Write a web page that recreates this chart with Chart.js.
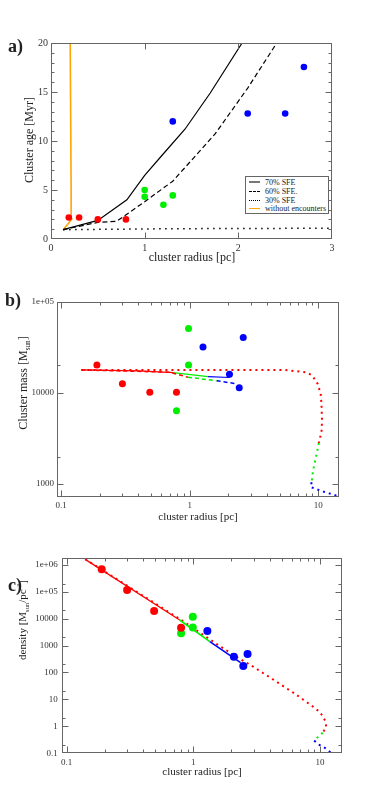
<!DOCTYPE html>
<html>
<head>
<meta charset="utf-8">
<script src="https://cdn.jsdelivr.net/npm/chart.js@4/dist/chart.umd.min.js"></script>
<style>
  body { margin: 0; background: #fff; width: 374px; height: 796px; position: relative; overflow: hidden;
         font-family: "Liberation Serif", "Times New Roman", serif; color: #222; }
  canvas { position: absolute; left: 0; }
  .t { position: absolute; white-space: nowrap; line-height: 1; transform: translate(-50%, -50%); }
  .rot { transform: translate(-50%, -50%) rotate(-90deg); }
  .lab { position: absolute; font-weight: bold; font-size: 18px; line-height: 1; }
  sub, sup { font-size: 0.6em; line-height: 0; }
  #legA { position: absolute; left: 245px; top: 176px; width: 82px; height: 36px; border: 1px solid #666;
          font-size: 8px; background: #fff; }
  #legA .row { position: absolute; left: 0; height: 9px; width: 82px; }
  #legA .smp { position: absolute; left: 3px; top: 4px; width: 11px; }
  #legA .txt { position: absolute; left: 19px; top: 0; line-height: 9px; white-space: nowrap; }
</style>
</head>
<body>
<canvas id="chartA" width="374" height="268" style="top:0"></canvas>
<canvas id="chartB" width="374" height="262" style="top:270px"></canvas>
<canvas id="chartC" width="374" height="264" style="top:532px"></canvas>

<div class="lab" style="left:8px;top:37px">a)</div>
<div class="lab" style="left:5px;top:291px">b)</div>
<div class="lab" style="left:8px;top:576px">c)</div>

<div class="t" style="left:192px;top:257px;font-size:12px">cluster radius [pc]</div>
<div class="t rot" style="left:29px;top:140px;font-size:12px">Cluster age [Myr]</div>
<div class="t" style="left:198px;top:516px;font-size:11px">cluster radius [pc]</div>
<div class="t rot" style="left:23px;top:383px;font-size:12px">Cluster mass [M<sub>sun</sub>]</div>
<div class="t" style="left:202px;top:771px;font-size:11px">cluster radius [pc]</div>
<div class="t rot" style="left:22px;top:620px;font-size:11px">density [M<sub>sun</sub>/pc<sup>-3</sup>]</div>

<div id="legA">
  <div class="row" style="top:1px"><span class="smp" style="border-top:2px solid #777;top:3px"></span><span class="txt">70% SFE</span></div>
  <div class="row" style="top:10px"><span class="smp" style="border-top:1px dashed #000"></span><span class="txt">60% SFE.</span></div>
  <div class="row" style="top:19px"><span class="smp" style="border-top:1px dotted #000"></span><span class="txt">30% SFE</span></div>
  <div class="row" style="top:27px"><span class="smp" style="border-top:1.5px solid #ffa500"></span><span class="txt">without encounters</span></div>
</div>

<script>
// ---- panel a: cluster age vs radius ----
const ageRedR = [0.19, 0.30, 0.50, 0.80];
const ageRedT = [2.2, 2.2, 2.0, 2.0];
const ageGreenR = [1.0, 1.0, 1.2, 1.3];
const ageGreenT = [5.0, 4.3, 3.5, 4.45];
const ageBlueR = [1.3, 2.1, 2.5, 2.7];
const ageBlueT = [12.0, 12.8, 12.8, 17.55];
const sfe70R = [0.13, 0.5, 0.81, 1.0, 1.2, 1.43, 1.7, 2.04];
const sfe70T = [0.95, 1.9, 4.0, 6.5, 8.7, 11.2, 14.9, 20];
const sfe60R = [0.13, 0.5, 0.7, 1.0, 1.3, 1.75, 2.1, 2.41];
const sfe60T = [0.95, 1.7, 1.8, 3.8, 5.9, 10.7, 15.4, 20];
const sfe30R = [0.13, 1.3, 3.0];
const sfe30T = [0.95, 1.05, 1.1];
const noEncR = [0.13, 0.22, 0.215, 0.205];
const noEncT = [0.95, 2.0, 5.0, 20];
const ageTicksX = [0, 1, 2, 3];
const ageTicksY = [0, 5, 10, 15, 20];
const ageMinorY = [1, 2, 3, 4, 6, 7, 8, 9, 11, 12, 13, 14, 16, 17, 18, 19];

// ---- panel b: cluster mass vs radius ----
const massRedR = [0.19, 0.30, 0.49, 0.79];
const massRedM = [20150, 12560, 10100, 10100];
const massGreenR = [0.98, 0.98, 0.79];
const massGreenM = [50500, 20150, 6340];
const massBlueR = [1.27, 2.61, 2.04, 2.43];
const massBlueM = [31800, 40200, 15930, 11350];
const mRedSolidR = [0.144, 0.4, 0.745];
const mRedSolidM = [17800, 17400, 16600];
const mRedDashR = [0.144, 0.7, 0.97];
const mRedDashM = [17800, 16800, 14800];
const mGreenSolidR = [0.745, 1.39];
const mGreenSolidM = [16600, 15000];
const mGreenDashR = [0.97, 1.62];
const mGreenDashM = [14800, 13550];
const mBlueSolidR = [1.39, 2.05];
const mBlueSolidM = [15000, 14700];
const mBlueDashR = [1.62, 2.35];
const mBlueDashM = [13550, 12500];
const mRedDotR = [0.144, 5.48, 8.02, 8.77, 9.38, 9.9, 10.45, 10.6, 10.7, 10.6, 10.1];
const mRedDotM = [17800, 17800, 16750, 15770, 14150, 12470, 9750, 7330, 4920, 3730, 2820];
const mGreenDotR = [10.1, 9.9, 9.48, 9.1, 8.88];
const mGreenDotM = [2820, 2430, 1820, 1390, 1045];
const mBlueDotR = [8.88, 8.73, 10.6, 12.9, 14.2, 15.5];
const mBlueDotM = [1045, 927, 838, 770, 738, 715];
const radTicks = [0.1, 1, 10];
const radLabels = ['0.1', '1', '10'];
const radMinor = [0.2, 0.3, 0.4, 0.5, 0.6, 0.7, 0.8, 0.9, 2, 3, 4, 5, 6, 7, 8, 9];
const massTicks = [1000, 10000, 100000];
const massLabels = ['1000', '10000', '1e+05'];
const massMinor = [2000, 20000];

// ---- panel c: density vs radius ----
const densRedR = [0.189, 0.30, 0.49, 0.80];
const densRedD = [680000, 115000, 19000, 4590];
const densGreenR = [0.99, 0.99, 0.80];
const densGreenD = [11700, 4700, 2850];
const densBlueR = [1.29, 2.09, 2.68, 2.48];
const densBlueD = [3470, 385, 485, 174];
const dRedLineR = [0.14, 0.78];
const dRedLineD = [1580000, 8870];
const dGreenLineR = [0.78, 1.35];
const dGreenLineD = [8870, 1390];
const dBlueLineR = [1.35, 2.36];
const dBlueLineD = [1390, 231];
const dRedDotR = [0.14, 0.8, 1.57, 2.33, 2.85, 4.23, 6.26, 9.12, 10, 10.7, 11.1, 11.2, 10.5];
const dRedDotD = [1600000, 9000, 1050, 316, 185, 56, 16.9, 4.8, 3.3, 2.1, 1.42, 0.93, 0.58];
const dGreenDotR = [10.5, 10, 9.0];
const dGreenDotD = [0.58, 0.48, 0.295];
const dBlueDotR = [9.0, 9.9, 11, 12.2, 13];
const dBlueDotD = [0.295, 0.204, 0.155, 0.106, 0.085];
const densTicks = [0.1, 1, 10, 100, 1000, 10000, 100000, 1000000];
const densLabels = ['0.1', '1', '10', '100', '1000', '10000', '1e+05', '1e+06'];
const densMinor = [0.2, 2, 20, 200, 2000, 20000, 200000];

const RED = '#ff0000', GREEN = '#00ee00', BLUE = '#0000ff';
const FONT = 'Liberation Serif';

function xy(xs, ys) { return xs.map((x, i) => ({ x: x, y: ys[i] })); }
function pts(xs, ys, color, r) {
  return { data: xy(xs, ys), showLine: false, pointRadius: r, backgroundColor: color, borderWidth: 0 };
}
function line(xs, ys, color, width, dash) {
  return { data: xy(xs, ys), showLine: true, pointRadius: 0, borderColor: color, borderWidth: width,
           borderDash: dash || [], fill: false, tension: 0 };
}

// frame box with inward major and minor ticks on all four sides
const frameTicks = {
  id: 'frame',
  afterDatasetsDraw(chart, args, opts) {
    const { ctx, chartArea: a, scales: { x, y } } = chart;
    const L = Math.round(a.left) + 0.5, R = Math.round(a.right) - 0.5;
    const T = Math.round(a.top) + 0.5, B = Math.round(a.bottom) - 0.5;
    ctx.save();
    ctx.strokeStyle = '#666';
    ctx.lineWidth = 1;
    ctx.strokeRect(L, T, R - L, B - T);
    ctx.beginPath();
    const xt = (vals, len) => vals.forEach(v => {
      const p = Math.round(x.getPixelForValue(v)) + 0.5;
      if (p < L - 0.1 || p > R + 0.1) return;
      ctx.moveTo(p, B); ctx.lineTo(p, B - len);
      ctx.moveTo(p, T); ctx.lineTo(p, T + len);
    });
    const yt = (vals, len) => vals.forEach(v => {
      const p = Math.round(y.getPixelForValue(v)) + 0.5;
      if (p < T - 0.1 || p > B + 0.1) return;
      ctx.moveTo(L, p); ctx.lineTo(L + len, p);
      ctx.moveTo(R, p); ctx.lineTo(R - len, p);
    });
    xt(x.ticks.map(t => t.value), 6);
    yt(y.ticks.map(t => t.value), 6);
    xt(opts.xMinor || [], 3);
    yt(opts.yMinor || [], 3);
    ctx.stroke();
    ctx.restore();
  }
};

function axis(type, min, max, ticks, labels, size, pad, isX) {
  return {
    type: type, min: min, max: max, bounds: 'data',
    grid: { display: false, drawTicks: false },
    border: { display: false },
    afterFit: s => { if (isX) s.height = 16; else s.width = 40; },
    afterBuildTicks: s => { s.ticks = ticks.map(v => ({ value: v })); },
    ticks: {
      autoSkip: false, maxRotation: 0, padding: pad, color: '#333',
      font: { family: FONT, size: size },
      callback: (v, i) => labels[i]
    }
  };
}

function makeChart(id, datasets, xScale, yScale, padding, minor) {
  return new Chart(document.getElementById(id), {
    type: 'scatter',
    data: { datasets: datasets },
    options: {
      responsive: false, animation: false, events: [],
      layout: { padding: padding },
      plugins: { legend: { display: false }, tooltip: { enabled: false }, frame: minor },
      scales: { x: xScale, y: yScale }
    },
    plugins: [frameTicks]
  });
}

// panel a
makeChart('chartA', [
  pts(ageRedR, ageRedT, RED, 3.3),
  pts(ageGreenR, ageGreenT, GREEN, 3.3),
  pts(ageBlueR, ageBlueT, BLUE, 3.3),
  line(sfe70R, sfe70T, '#000', 1.2),
  line(sfe60R, sfe60T, '#000', 1.2, [5, 3]),
  line(sfe30R, sfe30T, '#000', 1.5, [1.5, 4.5]),
  line(noEncR, noEncT, '#ffa500', 1.6)
],
  axis('linear', 0, 3, ageTicksX, ageTicksX.map(String), 10, 3, true),
  axis('linear', 0, 20, ageTicksY, ageTicksY.map(String), 10, 3, false),
  { left: 11, right: 42, top: 43, bottom: 13 },
  { xMinor: [], yMinor: ageMinorY });

// panel b
makeChart('chartB', [
  pts(massRedR, massRedM, RED, 3.5),
  pts(massGreenR, massGreenM, GREEN, 3.5),
  pts(massBlueR, massBlueM, BLUE, 3.5),
  line(mRedSolidR, mRedSolidM, RED, 1.2),
  line(mRedDashR, mRedDashM, RED, 1.5, [4, 3]),
  line(mGreenSolidR, mGreenSolidM, GREEN, 1.2),
  line(mGreenDashR, mGreenDashM, GREEN, 1.5, [4, 3]),
  line(mBlueSolidR, mBlueSolidM, BLUE, 1.2),
  line(mBlueDashR, mBlueDashM, BLUE, 1.5, [4, 3]),
  line(mRedDotR, mRedDotM, RED, 2, [2, 4]),
  line(mGreenDotR, mGreenDotM, GREEN, 2, [2, 4]),
  line(mBlueDotR, mBlueDotM, BLUE, 2, [2, 4])
],
  axis('logarithmic', 0.093, 14.5, radTicks, radLabels, 9, 3, true),
  axis('logarithmic', 721, 100000, massTicks, massLabels, 9, 3, false),
  { left: 17, right: 35, top: 31.5, bottom: 19 },
  { xMinor: radMinor, yMinor: massMinor });

// panel c
makeChart('chartC', [
  pts(densRedR, densRedD, RED, 4),
  pts(densGreenR, densGreenD, GREEN, 4),
  pts(densBlueR, densBlueD, BLUE, 4),
  line(dRedLineR, dRedLineD, RED, 1.3),
  line(dGreenLineR, dGreenLineD, GREEN, 1.6),
  line(dBlueLineR, dBlueLineD, BLUE, 1.6),
  line(dRedDotR, dRedDotD, RED, 2, [2, 4]),
  line(dGreenDotR, dGreenDotD, GREEN, 2, [2, 4]),
  line(dBlueDotR, dBlueDotD, BLUE, 2, [2, 4])
],
  axis('logarithmic', 0.0913, 15, radTicks, radLabels, 9, 4, true),
  axis('logarithmic', 0.1, 1730000, densTicks, densLabels, 9, 4, false),
  { left: 21.7, right: 31.7, top: 26.3, bottom: 26.7 },
  { xMinor: radMinor, yMinor: densMinor });
</script>
</body>
</html>
